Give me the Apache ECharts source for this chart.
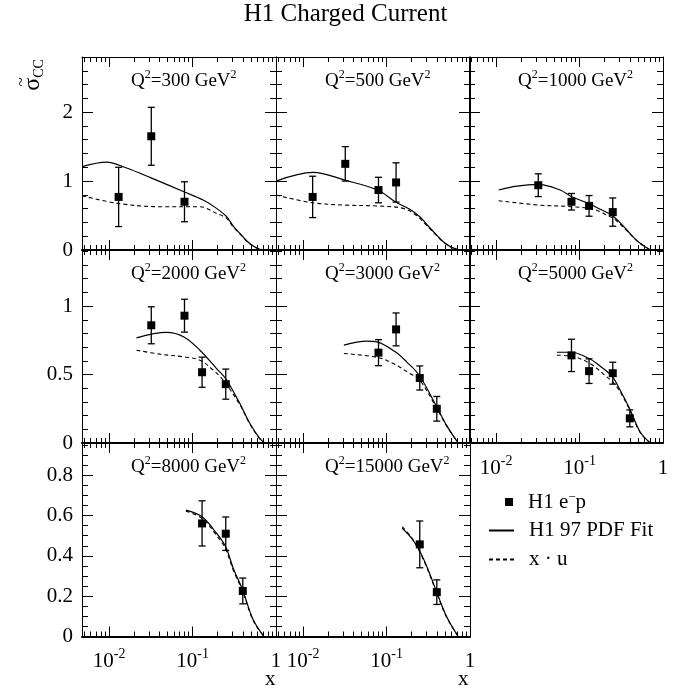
<!DOCTYPE html>
<html><head><meta charset="utf-8">
<script src="https://cdn.jsdelivr.net/npm/echarts@6/dist/echarts.min.js"></script>
<style>html,body{margin:0;padding:0;background:#fff}#c{width:691px;height:690px}</style>
</head><body><div id="c"></div><script>
const FONT = '"Liberation Serif","Times New Roman",serif';
const BLACK = '#000';

// ---------------- data ----------------
const q2Values = ['300', '500', '1000', '2000', '3000', '5000', '8000', '15000'];

const d300_x = [0.013, 0.032, 0.08];
const d300_y = [0.77, 1.65, 0.70];
const d300_err = [0.43, 0.42, 0.29];
const fit300_x = [0.00474, 0.0093, 0.0162, 0.0313, 0.0787, 0.134, 0.194, 0.256, 0.307, 0.369, 0.444, 0.533, 0.641, 0.736];
const fit300_y = [1.21, 1.275, 1.19, 1.05, 0.845, 0.725, 0.604, 0.483, 0.348, 0.242, 0.135, 0.058, 0.01, 0];
const xu300_x = [0.00474, 0.0128, 0.0406, 0.1225, 0.194, 0.256, 0.307, 0.369, 0.444, 0.533, 0.641, 0.736];
const xu300_y = [0.787, 0.676, 0.628, 0.628, 0.531, 0.459, 0.335, 0.235, 0.13, 0.055, 0.01, 0];

const d500_x = [0.013, 0.032, 0.08, 0.13];
const d500_y = [0.77, 1.25, 0.87, 0.98];
const d500_err = [0.30, 0.25, 0.185, 0.285];
const fit500_x = [0.00474, 0.0132, 0.0316, 0.078, 0.127, 0.19, 0.25, 0.315, 0.398, 0.478, 0.601, 0.757];
const fit500_y = [1.0, 1.126, 1.014, 0.87, 0.70, 0.59, 0.483, 0.348, 0.217, 0.12, 0.039, 0];
const xu500_x = [0.00474, 0.0128, 0.0316, 0.078, 0.158, 0.229, 0.30, 0.398, 0.478, 0.601, 0.757];
const xu500_y = [0.797, 0.686, 0.652, 0.638, 0.604, 0.50, 0.36, 0.21, 0.115, 0.037, 0];

const d1000_x = [0.032, 0.08, 0.13, 0.25];
const d1000_y = [0.94, 0.70, 0.64, 0.55];
const d1000_err = [0.165, 0.12, 0.15, 0.205];
const fit1000_x = [0.0107, 0.0177, 0.0321, 0.0585, 0.0809, 0.1315, 0.177, 0.251, 0.369, 0.443, 0.533, 0.703];
const fit1000_y = [0.87, 0.928, 0.952, 0.87, 0.773, 0.667, 0.59, 0.493, 0.29, 0.184, 0.097, 0];
const xu1000_x = [0.0107, 0.0321, 0.0809, 0.147, 0.212, 0.255, 0.369, 0.443, 0.533, 0.703];
const xu1000_y = [0.715, 0.652, 0.628, 0.59, 0.507, 0.459, 0.28, 0.18, 0.095, 0];

const d2000_x = [0.032, 0.08, 0.13, 0.25];
const d2000_y = [0.86, 0.93, 0.517, 0.43];
const d2000_err = [0.135, 0.12, 0.11, 0.11];
const fit2000_x = [0.0213, 0.0488, 0.0787, 0.1225, 0.194, 0.249, 0.369, 0.487, 0.641, 0.736];
const fit2000_y = [0.768, 0.808, 0.775, 0.678, 0.544, 0.471, 0.288, 0.142, 0.032, 0];
const xu2000_x = [0.0213, 0.0406, 0.0787, 0.1225, 0.177, 0.233, 0.369, 0.487, 0.641, 0.736];
const xu2000_y = [0.678, 0.649, 0.629, 0.605, 0.532, 0.459, 0.28, 0.138, 0.03, 0];

const d3000_x = [0.08, 0.13, 0.25, 0.4];
const d3000_y = [0.66, 0.83, 0.475, 0.25];
const d3000_err = [0.095, 0.12, 0.088, 0.09];
const fit3000_x = [0.0308, 0.0576, 0.078, 0.127, 0.174, 0.246, 0.39, 0.524, 0.722];
const fit3000_y = [0.715, 0.744, 0.737, 0.666, 0.593, 0.495, 0.276, 0.129, 0];
const xu3000_x = [0.0308, 0.078, 0.12, 0.19, 0.25, 0.39, 0.524, 0.722];
const xu3000_y = [0.654, 0.625, 0.581, 0.508, 0.459, 0.265, 0.125, 0];

const d5000_x = [0.08, 0.13, 0.25, 0.4];
const d5000_y = [0.64, 0.525, 0.51, 0.18];
const d5000_err = [0.118, 0.09, 0.08, 0.062];
const fit5000_x = [0.0535, 0.08, 0.13, 0.177, 0.248, 0.307, 0.397, 0.533, 0.703];
const fit5000_y = [0.663, 0.663, 0.617, 0.561, 0.483, 0.385, 0.252, 0.08, 0];
const xu5000_x = [0.0535, 0.08, 0.13, 0.212, 0.28, 0.397, 0.533, 0.703];
const xu5000_y = [0.641, 0.634, 0.585, 0.483, 0.41, 0.245, 0.075, 0];

const d8000_x = [0.13, 0.25, 0.4];
const d8000_y = [0.561, 0.51, 0.226];
const d8000_err = [0.112, 0.083, 0.064];
const fit8000_x = [0.0832, 0.13, 0.194, 0.249, 0.307, 0.398, 0.533, 0.716];
const fit8000_y = [0.627, 0.594, 0.512, 0.446, 0.339, 0.231, 0.083, 0];
const xu8000_x = [0.0832, 0.13, 0.194, 0.249, 0.307, 0.398, 0.533, 0.716];
const xu8000_y = [0.622, 0.586, 0.502, 0.434, 0.33, 0.224, 0.079, 0];

const d15000_x = [0.25, 0.4];
const d15000_y = [0.457, 0.22];
const d15000_err = [0.116, 0.061];
const fit15000_x = [0.154, 0.2, 0.246, 0.31, 0.39, 0.524, 0.722];
const fit15000_y = [0.537, 0.487, 0.429, 0.339, 0.231, 0.099, 0];
const xu15000_x = [0.154, 0.2, 0.246, 0.31, 0.39, 0.524, 0.722];
const xu15000_y = [0.545, 0.49, 0.425, 0.333, 0.226, 0.096, 0];

// axis tick values
const xMajorTicks = [0.01, 0.1, 1];
const yMajorRow1 = [0, 1, 2];
const yMajorRow2 = [0, 0.5, 1];
const yMajorRow3 = [0, 0.2, 0.4, 0.6, 0.8];

const legendNames = ['H1 e\u207Bp', 'H1 97 PDF Fit', 'x \u00B7 u'];

// ---------------- layout ----------------
const panels = [
  {q2: q2Values[0], x: d300_x, y: d300_y, err: d300_err, fx: fit300_x, fy: fit300_y, ux: xu300_x, uy: xu300_y},
  {q2: q2Values[1], x: d500_x, y: d500_y, err: d500_err, fx: fit500_x, fy: fit500_y, ux: xu500_x, uy: xu500_y},
  {q2: q2Values[2], x: d1000_x, y: d1000_y, err: d1000_err, fx: fit1000_x, fy: fit1000_y, ux: xu1000_x, uy: xu1000_y},
  {q2: q2Values[3], x: d2000_x, y: d2000_y, err: d2000_err, fx: fit2000_x, fy: fit2000_y, ux: xu2000_x, uy: xu2000_y},
  {q2: q2Values[4], x: d3000_x, y: d3000_y, err: d3000_err, fx: fit3000_x, fy: fit3000_y, ux: xu3000_x, uy: xu3000_y},
  {q2: q2Values[5], x: d5000_x, y: d5000_y, err: d5000_err, fx: fit5000_x, fy: fit5000_y, ux: xu5000_x, uy: xu5000_y},
  {q2: q2Values[6], x: d8000_x, y: d8000_y, err: d8000_err, fx: fit8000_x, fy: fit8000_y, ux: xu8000_x, uy: xu8000_y},
  {q2: q2Values[7], x: d15000_x, y: d15000_y, err: d15000_err, fx: fit15000_x, fy: fit15000_y, ux: xu15000_x, uy: xu15000_y}
];
const showXLabels = [false, false, false, false, false, true, true, true];

const colLeft = [82, 276, 469];
const rowTop = [57, 250, 443];
const W = 194;
const rowH = [193, 193, 193.5];
const X_MIN = 0.00473, X_MAX = 1;

const rows = [
  {max: 2.8, major: yMajorRow1, step: 0.2},
  {max: 1.41, major: yMajorRow2, step: 0.1},
  {max: 0.96, major: yMajorRow3, step: 0.05}
];

const xMinorTicks = [];
[0.001, 0.01, 0.1].forEach(function (d) {
  for (let k = 2; k <= 9; k++) {
    const v = +(k * d).toPrecision(3);
    if (v > X_MIN) xMinorTicks.push(v);
  }
});
function minorY(r) {
  const out = [];
  for (let k = 1; k * r.step < r.max - 1e-9; k++) {
    const v = Math.round(k * r.step * 1000) / 1000;
    if (!r.major.some(function (m) { return Math.abs(m - v) < 1e-9; })) out.push(v);
  }
  return out;
}

function xLabelFmt(v) {
  const e = Math.round(Math.log10(v));
  return e === 0 ? '{b|1}' : '{b|10}{s|' + e + '}';
}

function xAxisDef(gi, pos, ticks, len, lineShow, lineW, labels) {
  return {
    gridIndex: gi, type: 'log', logBase: 10, min: X_MIN, max: X_MAX, position: pos,
    axisLine: {show: lineShow, onZero: false, lineStyle: {color: BLACK, width: lineW}},
    axisTick: {show: true, inside: true, length: len, customValues: ticks, lineStyle: {color: BLACK, width: 1}},
    axisLabel: {
      show: !!labels, customValues: xMajorTicks, margin: 11, formatter: xLabelFmt,
      rich: {
        b: {fontFamily: FONT, fontSize: 21, lineHeight: 28, color: BLACK},
        s: {fontFamily: FONT, fontSize: 14, lineHeight: 8, verticalAlign: 'top', color: BLACK}
      }
    },
    splitLine: {show: false}
  };
}
function yAxisDef(gi, pos, r, ticks, len, lineShow, labels) {
  return {
    gridIndex: gi, type: 'value', min: 0, max: r.max, position: pos,
    axisLine: {show: lineShow, onZero: false, lineStyle: {color: BLACK, width: 1}},
    axisTick: {show: true, inside: true, length: len, customValues: ticks, lineStyle: {color: BLACK, width: 1}},
    axisLabel: {
      show: !!labels, customValues: labels || [0], margin: 9,
      fontFamily: FONT, fontSize: 21, color: BLACK,
      formatter: function (v) { return String(v); }
    },
    splitLine: {show: false}
  };
}

const grids = [], xAxes = [], yAxes = [], series = [], titles = [];

titles.push({
  text: 'H1 Charged Current', left: 'center', top: 0, padding: 0,
  textStyle: {fontFamily: FONT, fontSize: 25, fontWeight: 'normal', color: BLACK, lineHeight: 28}
});

function errRender(params, api) {
  const x = api.value(0), lo = api.value(1), hi = api.value(2);
  const a = api.coord([x, lo]), b = api.coord([x, hi]);
  const c = 3.5;
  const st = {stroke: BLACK, lineWidth: 1.3};
  return {type: 'group', children: [
    {type: 'line', shape: {x1: a[0], y1: a[1], x2: b[0], y2: b[1]}, style: st},
    {type: 'line', shape: {x1: a[0] - c, y1: a[1], x2: a[0] + c, y2: a[1]}, style: st},
    {type: 'line', shape: {x1: b[0] - c, y1: b[1], x2: b[0] + c, y2: b[1]}, style: st}
  ]};
}

panels.forEach(function (p, i) {
  const row = Math.floor(i / 3), col = i % 3;
  const r = rows[row];
  grids.push({left: colLeft[col], top: rowTop[row], width: W, height: rowH[row], containLabel: false});
  const xi = xAxes.length;
  xAxes.push(xAxisDef(i, 'bottom', xMajorTicks, 10, true, 2, showXLabels[i]));
  xAxes.push(xAxisDef(i, 'bottom', xMinorTicks, 5, false, 1, false));
  xAxes.push(xAxisDef(i, 'top', xMajorTicks, 10, true, 1, false));
  xAxes.push(xAxisDef(i, 'top', xMinorTicks, 5, false, 1, false));
  const yi = yAxes.length;
  const yLabels = col === 0 ? r.major : null;
  yAxes.push(yAxisDef(i, 'left', r, r.major, 11, true, yLabels));
  yAxes.push(yAxisDef(i, 'left', r, minorY(r), 6, false, null));
  yAxes.push(yAxisDef(i, 'right', r, r.major, 11, true, null));
  yAxes.push(yAxisDef(i, 'right', r, minorY(r), 6, false, null));

  series.push({
    type: 'line', name: legendNames[1], xAxisIndex: xi, yAxisIndex: yi,
    data: p.fx.map(function (v, k) { return [v, p.fy[k]]; }),
    smooth: 0.35, symbol: 'none', showSymbol: false, clip: true, z: 3,
    lineStyle: {color: BLACK, width: 1.2}, itemStyle: {color: BLACK}
  });
  series.push({
    type: 'line', name: legendNames[2], xAxisIndex: xi, yAxisIndex: yi,
    data: p.ux.map(function (v, k) { return [v, p.uy[k]]; }),
    smooth: 0.35, symbol: 'none', showSymbol: false, clip: true, z: 3,
    lineStyle: {color: BLACK, width: 1.1, type: [4, 3]}, itemStyle: {color: BLACK}
  });
  series.push({
    type: 'custom', name: 'err' + i, xAxisIndex: xi, yAxisIndex: yi,
    data: p.x.map(function (v, k) { return [v, p.y[k] - p.err[k], p.y[k] + p.err[k]]; }),
    encode: {x: 0, y: [1, 2]}, renderItem: errRender, z: 4
  });
  series.push({
    type: 'scatter', name: legendNames[0], xAxisIndex: xi, yAxisIndex: yi,
    data: p.x.map(function (v, k) { return [v, p.y[k]]; }),
    symbol: 'rect', symbolSize: 8, itemStyle: {color: BLACK, opacity: 1}, z: 5
  });

  titles.push({
    text: '{a|Q}{s|2}{a|=' + p.q2 + ' GeV}{s|2}',
    left: colLeft[col] + 49, top: rowTop[row] + 12, padding: 0,
    textStyle: {
      fontWeight: 'normal',
      rich: {
        a: {fontFamily: FONT, fontSize: 19, fontWeight: 'normal', lineHeight: 24, color: BLACK},
        s: {fontFamily: FONT, fontSize: 12, fontWeight: 'normal', lineHeight: 14, verticalAlign: 'top', color: BLACK}
      }
    }
  });
});

titles.push({text: 'x', left: 265, top: 669, padding: 0,
  textStyle: {fontFamily: FONT, fontSize: 21, fontWeight: 'normal', color: BLACK}});
titles.push({text: 'x', left: 458, top: 669, padding: 0,
  textStyle: {fontFamily: FONT, fontSize: 21, fontWeight: 'normal', color: BLACK}});

const option = {
  animation: false,
  backgroundColor: '#fff',
  title: titles,
  grid: grids,
  xAxis: xAxes,
  yAxis: yAxes,
  series: series,
  legend: [
    {
      data: [{name: legendNames[0], icon: 'rect'}], left: 505, top: 491, padding: 0,
      itemWidth: 8, itemHeight: 8, selectedMode: false,
      itemStyle: {opacity: 1, color: BLACK},
      formatter: function () { return '{a|H1 e}{s|\u2212}{a|p}'; },
      textStyle: {
        fontFamily: FONT, fontSize: 21, color: BLACK, padding: [0, 0, 0, 10],
        rich: {
          a: {fontFamily: FONT, fontSize: 21, lineHeight: 22, color: BLACK},
          s: {fontFamily: FONT, fontSize: 13, lineHeight: 10, verticalAlign: 'top', color: BLACK}
        }
      }
    },
    {
      data: [legendNames[1], legendNames[2]], orient: 'vertical', left: 488, top: 520, padding: 0,
      itemWidth: 25, itemHeight: 14, itemGap: 8, selectedMode: false,
      itemStyle: {opacity: 0},
      textStyle: {fontFamily: FONT, fontSize: 21, lineHeight: 21, color: BLACK, padding: [0, 0, 0, 10]}
    }
  ],
  graphic: [
    {
      type: 'text', x: 32.5, y: 75, rotation: Math.PI / 2,
      style: {
        text: '{a|\u03C3}{b|CC}', align: 'center', verticalAlign: 'middle',
        rich: {
          a: {fontFamily: FONT, fontSize: 24, lineHeight: 28, fill: BLACK},
          b: {fontFamily: FONT, fontSize: 14, lineHeight: 12, verticalAlign: 'bottom', fill: BLACK}
        }
      }
    },
    {
      type: 'text', x: 22, y: 82, rotation: Math.PI / 2,
      style: {text: '~', align: 'center', verticalAlign: 'middle', fontFamily: FONT, fontSize: 17, fill: BLACK}
    }
  ]
};

const chart = echarts.init(document.getElementById('c'), null, {renderer: 'canvas'});
chart.setOption(option);
</script></body></html>
